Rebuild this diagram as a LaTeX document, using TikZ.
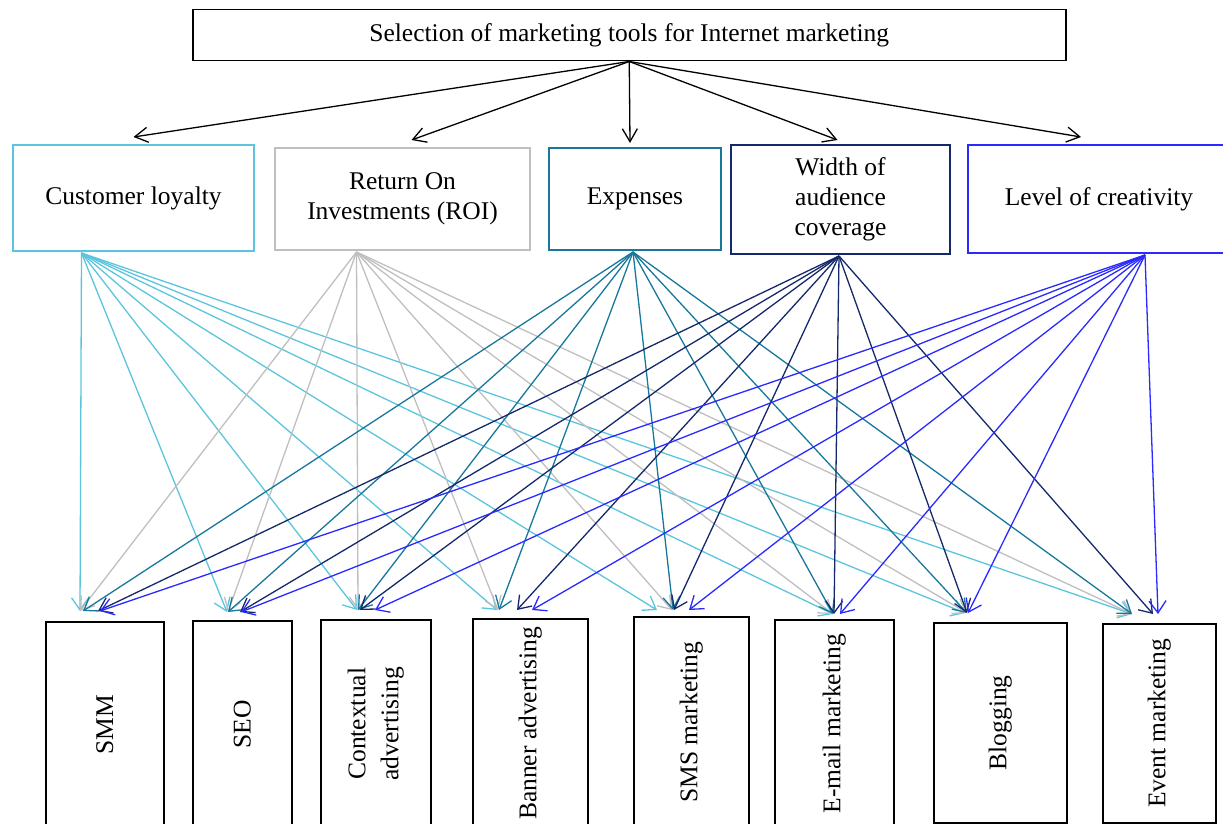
\documentclass[tikz,border=0pt]{standalone}
\usepackage{graphicx}
\usepackage{fontspec}
\setmainfont{Liberation Serif}
\usetikzlibrary{arrows.meta}
\definecolor{loyalc}{HTML}{5BC5DD}
\definecolor{roic}{HTML}{BFBFBF}
\definecolor{costc}{HTML}{17789C}
\definecolor{widc}{HTML}{15296A}
\definecolor{creac}{HTML}{2A2AFF}
\tikzset{
  every node/.style={font=\fontsize{25.5}{30}\selectfont},
  headbox/.style={draw, line width=1.5pt, anchor=north west, inner sep=0pt},
  critbox/.style={draw, line width=2pt, anchor=north west, align=center, inner sep=2pt},
  toolbox/.style={draw, line width=1.5pt, anchor=north west, inner sep=0pt},
  toparr/.style={-{Straight Barb[length=13pt,width=15pt]}, line width=1.3pt},
  lowarr/.style={-{Straight Barb[length=12pt,width=17pt]}, line width=1.3pt},
}

\begin{document}
\begin{tikzpicture}[x=1pt,y=-1pt]
    \useasboundingbox (0,0) rectangle (1223,824);
    \node[headbox, minimum width=873pt, minimum height=51pt] (title) at (192,9) {Selection of marketing tools for Internet marketing};
    % criteria
    \node[critbox, draw=loyalc, minimum width=241pt, minimum height=106pt] (loyal) at (12,144) {Customer loyalty};
    \node[critbox, draw=roic, minimum width=255pt, minimum height=102pt] (roi) at (274,147) {Return On\\Investments (ROI)};
    \node[critbox, draw=costc, minimum width=172pt, minimum height=102pt] (cost) at (548,147) {Expenses};
    \node[critbox, draw=widc, minimum width=219pt, minimum height=109pt] (wid) at (730,144) {Width of\\audience\\coverage};
    \node[critbox, draw=creac, minimum width=262pt, minimum height=108pt] (crea) at (967,144) {Level of creativity};
    \draw[toparr] (title.south) -- ([shift={(0,-7)}]loyal.north);
    \draw[toparr] (title.south) -- ([shift={(9,-7)}]roi.north);
    \draw[toparr] (title.south) -- ([shift={(-5,-4)}]cost.north);
    \draw[toparr] (title.south) -- ([shift={(-3,-4)}]wid.north);
    \draw[toparr] (title.south) -- ([shift={(-18,-7)}]crea.north);
    \coordinate (loyS) at ([xshift=-52pt,yshift=-1pt]loyal.south);
    \coordinate (roiS) at ([xshift=-46pt,yshift=-1pt]roi.south);
    \coordinate (costS) at ([xshift=-2pt,yshift=-1pt]cost.south);
    \coordinate (widS) at ([xshift=-1.5pt,yshift=-1pt]wid.south);
    \coordinate (creaS) at ([xshift=46pt,yshift=-1pt]crea.south);
    % tools
    \node[toolbox, minimum width=118pt, minimum height=206pt] (smm) at (45,621) {\rotatebox{90}{SMM}};
    \node[toolbox, minimum width=99pt, minimum height=207pt] (seo) at (192,620) {\rotatebox{90}{SEO}};
    \node[toolbox, minimum width=110pt, minimum height=208pt] (ctx) at (320,619) {\rotatebox{90}{\begin{tabular}{@{}c@{}}Contextual\\[3pt]advertising\end{tabular}}};
    \node[toolbox, minimum width=115pt, minimum height=209pt] (ban) at (472,618) {\rotatebox{90}{Banner advertising}};
    \node[toolbox, minimum width=115pt, minimum height=211pt] (sms) at (633,616) {\rotatebox{90}{SMS marketing}};
    \node[toolbox, minimum width=119pt, minimum height=208pt] (eml) at (774,619) {\rotatebox{90}{E-mail marketing}};
    \node[toolbox, minimum width=133pt, minimum height=200pt] (blg) at (933,622) {\rotatebox{90}{Blogging}};
    \node[toolbox, minimum width=113pt, minimum height=199pt] (evt) at (1102,623) {\rotatebox{90}{Event marketing}};
    % criterion -> tool
    \foreach \t/\dx/\dy in {smm/35/10, seo/35/8, ctx/37/9, ban/25/8, sms/24/6, eml/59/5, blg/32/9, evt/30/9}
        \draw[lowarr, loyalc] (loyS) -- ([shift={(\dx,-\dy)}]\t.north west);
    \foreach \t/\dx/\dy in {smm/35/10, seo/36/8, ctx/38/9, ban/26/8, sms/39/6, eml/59/5, blg/34/9, evt/30/9}
        \draw[lowarr, roic] (roiS) -- ([shift={(\dx,-\dy)}]\t.north west);
    \foreach \t/\dx/\dy in {smm/38/10, seo/36/8, ctx/38/9, ban/27/8, sms/40/6, eml/59/5, blg/34/9, evt/30/9}
        \draw[lowarr, costc] (costS) -- ([shift={(\dx,-\dy)}]\t.north west);
    \foreach \t/\dx/\dy in {smm/53/10, seo/48/8, ctx/40/9, ban/45/8, sms/41/6, eml/60/5, blg/34/9, evt/51/9}
        \draw[lowarr, widc] (widS) -- ([shift={(\dx,-\dy)}]\t.north west);
    \foreach \t/\dx/\dy in {smm/55/10, seo/49/8, ctx/55/9, ban/60/8, sms/56/6, eml/66/5, blg/35/9, evt/56/9}
        \draw[lowarr, creac] (creaS) -- ([shift={(\dx,-\dy)}]\t.north west);
\end{tikzpicture}
\end{document}
